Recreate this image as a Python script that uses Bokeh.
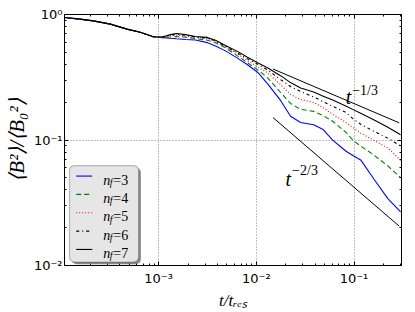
import math
from bokeh.plotting import figure
from bokeh.models import (FixedTicker, LogAxis, Label, BoxAnnotation,
                          CustomJSTickFormatter)
from bokeh.embed import file_html
from bokeh.resources import INLINE

# ---------------- data ----------------
t = [1.09e-4, 1.57e-4, 2.14e-4, 3.20e-4, 4.74e-4, 6.49e-4, 8.82e-4,
     1.09e-3, 1.32e-3, 1.52e-3, 1.88e-3, 2.38e-3, 3.16e-3, 3.82e-3, 4.83e-3,
     6.41e-3, 8.12e-3, 1.03e-2, 1.30e-2, 1.77e-2, 2.24e-2, 2.84e-2, 3.86e-2,
     4.78e-2, 6.05e-2, 8.22e-2, 9.93e-2, 0.117, 0.159, 0.222, 0.300]

common = [0.947, 0.918, 0.890, 0.838, 0.765, 0.721, 0.665]

b_nf3 = common + [0.6546, 0.6463, 0.6404, 0.6323, 0.6266, 0.5966, 0.5618, 0.5130,
                  0.4492, 0.3977, 0.3470, 0.2815, 0.2066, 0.1544, 0.1377, 0.1323,
                  0.1219, 0.0998, 0.0817, 0.0746, 0.0694, 0.0491, 0.0341, 0.0267]
b_nf4 = common + [0.6570, 0.6617, 0.6666, 0.6594, 0.6428, 0.6243, 0.5955, 0.5418,
                  0.4684, 0.4124, 0.3631, 0.3139, 0.2390, 0.1957, 0.1754, 0.1692,
                  0.1573, 0.1410, 0.1154, 0.0980, 0.0895, 0.0760, 0.0622, 0.0500]
b_nf5 = common + [0.6594, 0.6763, 0.6838, 0.6714, 0.6594, 0.6416, 0.6131, 0.5568,
                  0.4858, 0.4277, 0.3835, 0.3438, 0.2764, 0.2304, 0.2104, 0.1992,
                  0.1819, 0.1602, 0.1385, 0.1242, 0.1134, 0.0998, 0.0863, 0.0688]
b_nf6 = common + [0.6606, 0.6838, 0.6963, 0.6838, 0.6617, 0.6475, 0.6153, 0.5568,
                  0.4947, 0.4435, 0.4013, 0.3631, 0.3027, 0.2665, 0.2434, 0.2202,
                  0.2029, 0.1853, 0.1661, 0.1462, 0.1335, 0.1176, 0.1035, 0.0895]
b_nf7 = common + [0.6617, 0.6913, 0.7065, 0.6913, 0.6678, 0.6570, 0.6243, 0.5670,
                  0.5084, 0.4558, 0.4124, 0.3766, 0.3256, 0.2867, 0.2594, 0.2412,
                  0.2242, 0.2085, 0.1870, 0.1738, 0.1631, 0.1449, 0.1264, 0.1103]

ref_t = [0.0148, 0.29]
ref_13 = [0.368, 0.137]    # t^-1/3 guide
ref_23 = [0.151, 0.0206]   # t^-2/3 guide

labels = ["3", "4", "5", "6", "7"]
x_major = [1e-3, 1e-2, 1e-1]
y_major = [1e-2, 1e-1, 1.0]

XMIN, XMAX = 1.087e-4, 0.3063
YMIN, YMAX = 0.01, 1.0

# ---------------- styles ----------------
styles = [("#0000ff", "solid"), ("#008000", "5 3"), ("#ff0000", "1 2"),
          ("#000000", "3 3 1 3"), ("#000000", "solid")]
series = [b_nf3, b_nf4, b_nf5, b_nf6, b_nf7]

SERIF = "Liberation Serif"
SANS = "DejaVu Sans"

p = figure(width=415, height=312, x_axis_type="log", y_axis_type="log",
           x_range=(XMIN, XMAX), y_range=(YMIN, YMAX),
           output_backend="svg", toolbar_location=None,
           min_border_left=64, min_border_right=14, min_border_top=14,
           min_border_bottom=44)
p.background_fill_color = "white"
p.border_fill_color = "white"
p.outline_line_color = "black"
p.outline_line_width = 1

# minor ticks (2..9 per decade)
x_minor = [m * 10.0 ** k for k in range(-4, 0) for m in range(2, 10)
           if XMIN <= m * 10.0 ** k <= XMAX]
y_minor = [m * 10.0 ** k for k in range(-2, 0) for m in range(2, 10)]

pow_fmt = CustomJSTickFormatter(code="""
const sup = {'-': '\u207b', '0': '\u2070', '1': '\u00b9', '2': '\u00b2',
             '3': '\u00b3', '4': '\u2074', '5': '\u2075'};
const e = Math.round(Math.log10(tick));
return '10' + String(e).split('').map(c => sup[c]).join('');
""")
blank_fmt = CustomJSTickFormatter(code="return '';")


def style_axis(ax, show_labels=True):
    ax.major_tick_in = 4
    ax.major_tick_out = 0
    ax.minor_tick_in = 2
    ax.minor_tick_out = 0
    ax.axis_line_color = "black"
    ax.major_tick_line_color = "black"
    ax.minor_tick_line_color = "black"
    if show_labels:
        ax.formatter = pow_fmt
        ax.major_label_text_font = SANS
        ax.major_label_text_font_size = "13px"
        ax.major_label_text_color = "black"
    else:
        ax.formatter = blank_fmt
        ax.major_label_text_font_size = "1px"
        ax.major_label_standoff = 0


p.xaxis.ticker = FixedTicker(ticks=x_major, minor_ticks=x_minor)
p.yaxis.ticker = FixedTicker(ticks=y_major, minor_ticks=y_minor)
style_axis(p.xaxis[0])
style_axis(p.yaxis[0])
p.xaxis.major_label_standoff = 5
p.yaxis.major_label_standoff = 2

p.xaxis.axis_label = "t/tᵣₑₛ"
p.xaxis.axis_label_text_font = SERIF
p.xaxis.axis_label_text_font_style = "italic"
p.xaxis.axis_label_text_font_size = "17px"
p.xaxis.axis_label_standoff = 2
p.xaxis.axis_label_text_color = "black"

p.yaxis.axis_label = "⟨B²⟩/⟨B₀²⟩"
p.yaxis.axis_label_text_font = SERIF
p.yaxis.axis_label_text_font_style = "italic"
p.yaxis.axis_label_text_font_size = "21px"
p.yaxis.axis_label_standoff = 2
p.yaxis.axis_label_text_color = "black"

top = LogAxis(ticker=FixedTicker(ticks=x_major, minor_ticks=x_minor))
style_axis(top, show_labels=False)
p.add_layout(top, "above")
right = LogAxis(ticker=FixedTicker(ticks=y_major, minor_ticks=y_minor))
style_axis(right, show_labels=False)
p.add_layout(right, "right")

for g in (p.xgrid[0], p.ygrid[0]):
    g.grid_line_color = "#808080"
    g.grid_line_dash = "1 2"
    g.grid_line_width = 1

# ---------------- curves ----------------
for ys, (col, dash) in zip(series, styles):
    p.line(t, ys, line_color=col, line_dash=dash, line_width=1.1)

p.line(ref_t, ref_13, line_color="black", line_width=1)
p.line(ref_t, ref_23, line_color="black", line_width=1)

# ---------------- helpers: reference-image pixel -> data ----------------
FX0, FX1, FY0, FY1 = 64.3, 400.7, 14.3, 267.5
LX0, LX1 = math.log10(XMIN), math.log10(XMAX)


def dx(px):
    return 10 ** (LX0 + (px - FX0) / (FX1 - FX0) * (LX1 - LX0))


def dy(py):
    return 10 ** (0.0 - (py - FY0) / (FY1 - FY0) * 2.0)


# power-law annotations
p.add_layout(Label(x=dx(345), y=dy(98), text="t", text_font=SERIF,
                   text_font_style="italic", text_font_size="20px",
                   text_baseline="alphabetic", text_color="black"))
p.add_layout(Label(x=dx(351.5), y=dy(90.5), text="−1/3", text_font=SERIF,
                   text_font_size="14px", text_baseline="alphabetic",
                   text_color="black"))
p.add_layout(Label(x=dx(285), y=dy(180), text="t", text_font=SERIF,
                   text_font_style="italic", text_font_size="20px",
                   text_baseline="alphabetic", text_color="black"))
p.add_layout(Label(x=dx(291.5), y=dy(171.5), text="−2/3", text_font=SERIF,
                   text_font_size="14px", text_baseline="alphabetic",
                   text_color="black"))

# ---------------- legend ----------------
p.add_layout(BoxAnnotation(left=dx(71.5), right=dx(140.5), top=dy(169),
                           bottom=dy(266.3), fill_color="#555555",
                           fill_alpha=0.7, line_color=None, border_radius=5))
p.add_layout(BoxAnnotation(left=dx(69.3), right=dx(138.3), top=dy(166.7),
                           bottom=dy(264), fill_color="#e6e6e6", fill_alpha=1,
                           line_color="#333333", line_width=1.2,
                           border_radius=5))

for i, (lab, (col, dash)) in enumerate(zip(labels, styles)):
    row = 177.3 + 18.5 * i
    p.segment(x0=[dx(76)], y0=[dy(row)], x1=[dx(92)], y1=[dy(row)],
              line_color=col, line_dash=dash, line_width=1.1, level="overlay")
    p.add_layout(Label(x=dx(103), y=dy(row + 4), text="n", text_font=SERIF,
                       text_font_style="italic", text_font_size="14px",
                       text_baseline="alphabetic", text_color="black"))
    p.add_layout(Label(x=dx(109.5), y=dy(row + 6.5), text="f", text_font=SERIF,
                       text_font_style="italic", text_font_size="10px",
                       text_baseline="alphabetic", text_color="black"))
    p.add_layout(Label(x=dx(113), y=dy(row + 4), text="=" + lab, text_font=SERIF,
                       text_font_size="14px", text_baseline="alphabetic",
                       text_color="black"))

open("out.html", "w").write(file_html(p, INLINE))
